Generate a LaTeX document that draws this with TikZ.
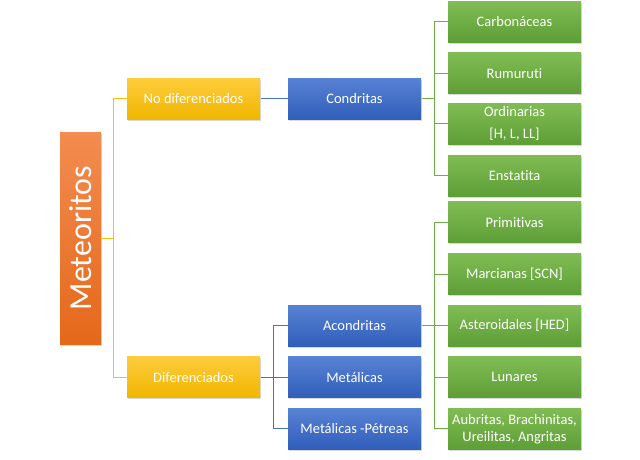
\documentclass[tikz,border=0pt]{standalone}
\usepackage{fontspec}
\setmainfont{Carlito}[Ligatures={NoCommon,TeX}]
\usetikzlibrary{positioning,shadows}
\definecolor{naranjaA}{RGB}{243,140,80}
\definecolor{naranjaB}{RGB}{228,104,26}
\definecolor{amarilloA}{RGB}{255,204,60}
\definecolor{amarilloB}{RGB}{240,182,0}
\definecolor{azulA}{RGB}{88,130,212}
\definecolor{azulB}{RGB}{48,94,186}
\definecolor{verdeA}{RGB}{128,188,84}
\definecolor{verdeB}{RGB}{94,158,54}
\definecolor{amarillo}{RGB}{255,192,0}
\definecolor{azul}{RGB}{68,114,196}
\definecolor{verde}{RGB}{112,173,71}
\tikzset{
tree/.style={
    node distance=9.6pt,
    line width=1pt
},
caja/.style={
    rectangle,
    minimum width=133pt,
    minimum height=41pt,
    inner sep=1pt,
    align=center,
    text=white,
    font=\fontsize{14.5}{17}\selectfont,
    drop shadow={shadow xshift=1.2pt,shadow yshift=-1.5pt,opacity=0.3}
},
root/.style={
    caja,
    minimum width=41pt,
    minimum height=212pt,
    top color=naranjaA,
    bottom color=naranjaB,
    font=\fontsize{32}{36}\selectfont
},
grupo/.style={
    caja,
    top color=amarilloA,
    bottom color=amarilloB
},
clase/.style={
    caja,
    top color=azulA,
    bottom color=azulB
},
tipo/.style={
    caja,
    top color=verdeA,
    bottom color=verdeB
},
yline/.style={
    draw=amarillo
},
bline/.style={
    draw=azul
},
gline/.style={
    draw=verde
}}

\begin{document}
\begin{tikzpicture}[tree]
\useasboundingbox (0,0) rectangle (640pt,-460pt);

\node    (met)    [root]  at (80.5pt,-238pt)   {\rotatebox{90}{Meteoritos}};
\node    (nodif)  [grupo] at (193.5pt,-98.6pt) {No diferenciados};
\node    (dif)    [grupo] at (193.5pt,-377.2pt) {Diferenciados};

\node    (condr)  [clase, right=27pt of nodif]  {Condritas};
\node    (metal)  [clase, right=27pt of dif]    {Metálicas};
\node    (acond)  [clase, above=of metal]       {Acondritas};
\node    (metpet) [clase, below=of metal]       {Metálicas -Pétreas};

\node    (rum)    [tipo, right=26pt of condr, yshift=25.3pt]  {Rumuruti};
\node    (carb)   [tipo, above=of rum]                        {Carbonáceas};
\node    (ord)    [tipo, right=26pt of condr, yshift=-25.3pt] {Ordinarias\\[5pt]{[H, L, LL]}};
\node    (enst)   [tipo, below=of ord]                        {Enstatita};

\node    (aster)  [tipo, right=26pt of acond] {Asteroidales [HED]};
\node    (marc)   [tipo, above=of aster]      {Marcianas [SCN]};
\node    (prim)   [tipo, above=of marc]       {Primitivas};
\node    (lun)    [tipo, below=of aster]      {Lunares};
\node    (aub)    [tipo, below=of lun]        {Aubritas, Brachinitas,\\Ureilitas, Angritas};

\coordinate (ybus)  at ([xshift=12pt]met.east);
\coordinate (bbus)  at ([xshift=13pt]dif.east);
\coordinate (gbusa) at ([xshift=13pt]condr.east);
\coordinate (gbusb) at ([xshift=13pt]acond.east);

\path[yline]  (met.east)    --  (ybus);
\path[yline]  (nodif.west)  -|  (ybus) |- (dif.west);

\path[bline]  (nodif.east)  --  (condr.west);
\path[bline]  (dif.east)    --  (metal.west);
\path[bline]  (acond.west)  -|  (bbus) |- (metpet.west);

\path[gline]  (condr.east)  --  (gbusa);
\path[gline]  (carb.west)   -|  (gbusa) |- (enst.west);
\path[gline]  (rum.west)    -|  (gbusa);
\path[gline]  (ord.west)    -|  (gbusa);

\path[gline]  (acond.east)  --  (aster.west);
\path[gline]  (prim.west)   -|  (gbusb) |- (aub.west);
\path[gline]  (marc.west)   -|  (gbusb);
\path[gline]  (lun.west)    -|  (gbusb);
\end{tikzpicture}
\end{document}
